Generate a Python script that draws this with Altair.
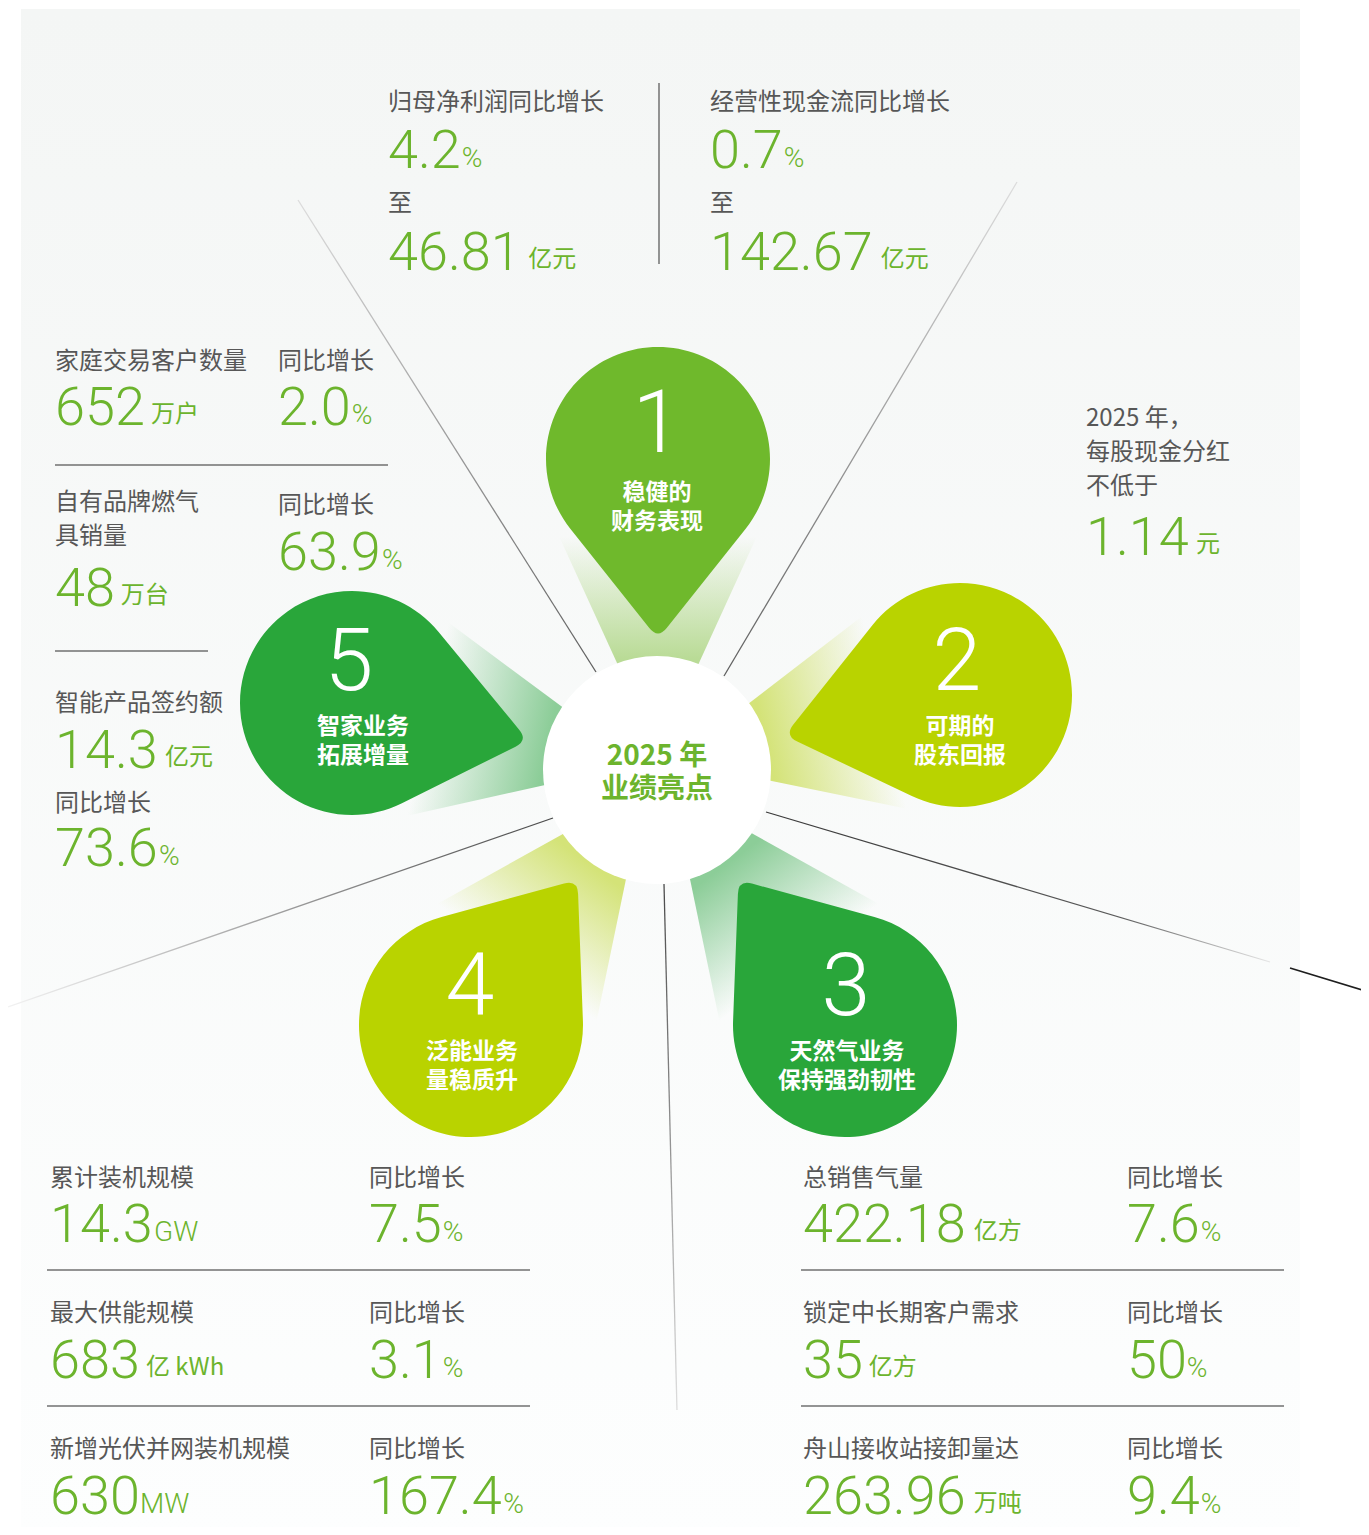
import math
import altair as alt
import pandas as pd

# ---------------- data ----------------
fin_labels = ["归母净利润同比增长", "经营性现金流同比增长"]
fin_growth = ["4.2", "0.7"]
fin_amount = ["46.81", "142.67"]
fin_unit = "亿元"
fin_to = "至"

dividend_text = ["2025 年，", "每股现金分红", "不低于"]
dividend_value = "1.14"
dividend_unit = "元"

home_labels = ["家庭交易客户数量", "自有品牌燃气具销量", "智能产品签约额"]
home_values = ["652", "48", "14.3"]
home_units = ["万户", "万台", "亿元"]
home_growth = ["2.0", "63.9", "73.6"]

energy_labels = ["累计装机规模", "最大供能规模", "新增光伏并网装机规模"]
energy_values = ["14.3", "683", "630"]
energy_units = ["GW", "亿 kWh", "MW"]
energy_growth = ["7.5", "3.1", "167.4"]

gas_labels = ["总销售气量", "锁定中长期客户需求", "舟山接收站接卸量达"]
gas_values = ["422.18", "35", "263.96"]
gas_units = ["亿方", "亿方", "万吨"]
gas_growth = ["7.6", "50", "9.4"]

growth_label = "同比增长"
pct = "%"

petal_numbers = ["1", "2", "3", "4", "5"]
petal_titles = [["稳健的", "财务表现"], ["可期的", "股东回报"], ["天然气业务", "保持强劲韧性"],
                ["泛能业务", "量稳质升"], ["智家业务", "拓展增量"]]
center_title = ["2025 年", "业绩亮点"]

# ---------------- layout / style ----------------
W, H = 1353, 1519
OX, OY = 8, 8
GREEN = "#6cb42d"
GRAY = "#575757"
RULE = "#707070"
NUM = 54

petal_pos = [(658, 459), (960, 695), (845, 1025), (471, 1025), (352, 703)]
petal_rot = [0, 77, 143.7, 216.3, 282]
petal_fill = ["#6fb92c", "#b9d300", "#29a63a", "#b9d300", "#29a63a"]
wedge_rgb = [(185, 219, 150), (212, 227, 120), (140, 205, 152), (212, 227, 120), (140, 205, 152)]
petal_num_pos = [(657, 452), (957, 690), (846, 1015), (470, 1015), (349, 690)]
petal_title_pos = [(657, 500), (960, 734), (847, 1059), (472, 1059), (363, 734)]

# petal (teardrop) shape in pixel units, tip pointing down (+y)
R, D, CUT = 112, 180, 14
s = math.sqrt(1 - (R / D) ** 2)
Tx, Ty = R * s, R * R / D
L = math.hypot(Tx, D - Ty)
px, py = Tx / L * CUT, D - (D - Ty) / L * CUT
PETAL = (f"M {Tx:.2f} {Ty:.2f} L {px:.2f} {py:.2f} Q 0 {D} {-px:.2f} {py:.2f} "
         f"L {-Tx:.2f} {Ty:.2f} A {R} {R} 0 1 1 {Tx:.2f} {Ty:.2f} Z")
WEDGE = "M -116 40 L 116 40 L 30 228 L -30 228 Z"

xs = alt.Scale(domain=[OX, OX + W], nice=False, zero=False)
ys = alt.Scale(domain=[OY, OY + H], nice=False, zero=False, reverse=True)


def X(f="x"):
    return alt.X(f + ":Q", scale=xs, axis=None)


def Y(f="y"):
    return alt.Y(f + ":Q", scale=ys, axis=None)


def grad(stops, x1, y1, x2, y2):
    return {"gradient": "linear", "x1": x1, "y1": y1, "x2": x2, "y2": y2,
            "stops": [{"offset": o, "color": c} for o, c in stops]}


layers = []

# background panel
panel = pd.DataFrame([{"x": 21, "x2": 1300, "y": 9, "y2": 1540}])
layers.append(alt.Chart(panel).mark_rect(
    fill=grad([(0, "#f4f6f5"), (1, "#fdfefe")], 0, 0, 0, 1)
).encode(x=X(), x2="x2:Q", y=Y(), y2="y2:Q"))

# glow wedges behind petals
for i in range(5):
    r, g, b = wedge_rgb[i]
    d = pd.DataFrame([{"x": petal_pos[i][0], "y": petal_pos[i][1], "rot": petal_rot[i]}])
    layers.append(alt.Chart(d).mark_point(
        shape=WEDGE, size=4, filled=True, opacity=1, strokeWidth=0,
        fill=grad([(0, f"rgba({r},{g},{b},0)"), (0.2, f"rgba({r},{g},{b},0)"),
                   (0.85, f"rgb({r},{g},{b})"), (1, f"rgb({r},{g},{b})")], 0, 0, 0, 1)
    ).encode(x=X(), y=Y(), angle=alt.Angle("rot:Q", scale=None)))

# radial lines with fading strokes
radials = [
    ((298, 200, 596, 672), [(0, "#dcdcdc"), (1, "#5e5e5e")], (0, 0, 1, 1)),
    ((1017, 182, 724, 676), [(0, "#dcdcdc"), (1, "#5e5e5e")], (1, 0, 0, 1)),
    ((766, 812, 1270, 962), [(0, "#3a3a3a"), (0.7, "#5a5a5a"), (1, "#e6e6e6")], (0, 0, 1, 1)),
    ((553, 818, 8, 1007), [(0, "#4a4a4a"), (1, "#f2f2f2")], (1, 0, 0, 1)),
    ((664, 884, 677, 1410), [(0, "#4a4a4a"), (1, "#dedede")], (0, 0, 1, 1)),
]
for (x1, y1, x2, y2), stops, g in radials:
    d = pd.DataFrame([{"x": x1, "y": y1, "x2": x2, "y2": y2}])
    layers.append(alt.Chart(d).mark_rule(
        strokeWidth=1.3, stroke=grad(stops, *g)
    ).encode(x=X(), y=Y(), x2="x2:Q", y2="y2:Q"))

# solid rules (dividers)
rules = pd.DataFrame([
    {"x": 659, "y": 83, "x2": 659, "y2": 264, "c": "#7a7a7a"},
    {"x": 55, "y": 465, "x2": 388, "y2": 465, "c": RULE},
    {"x": 55, "y": 651, "x2": 208, "y2": 651, "c": RULE},
    {"x": 47, "y": 1270, "x2": 530, "y2": 1270, "c": RULE},
    {"x": 47, "y": 1406, "x2": 530, "y2": 1406, "c": RULE},
    {"x": 801, "y": 1270, "x2": 1284, "y2": 1270, "c": RULE},
    {"x": 801, "y": 1406, "x2": 1284, "y2": 1406, "c": RULE},
    {"x": 1290, "y": 968, "x2": 1362, "y2": 990, "c": "#1e1e1e"},
])
layers.append(alt.Chart(rules).mark_rule(strokeWidth=1.6).encode(
    x=X(), y=Y(), x2="x2:Q", y2="y2:Q", color=alt.Color("c:N", scale=None)))

# center circle
cdf = pd.DataFrame([{"x": 657, "y": 770}])
layers.append(alt.Chart(cdf).mark_point(
    shape="circle", size=228 * 228, filled=True, opacity=1, strokeWidth=0, fill="white"
).encode(x=X(), y=Y()))

# petals
pdf = pd.DataFrame([{"x": petal_pos[i][0], "y": petal_pos[i][1], "rot": petal_rot[i],
                     "c": petal_fill[i]} for i in range(5)])
layers.append(alt.Chart(pdf).mark_point(
    shape=PETAL, size=4, filled=True, opacity=1, strokeWidth=0
).encode(x=X(), y=Y(), angle=alt.Angle("rot:Q", scale=None), color=alt.Color("c:N", scale=None)))

# ---------------- texts ----------------
texts = []


def T(x, y, t, size, color, group):
    texts.append({"x": x, "y": y, "t": t, "size": size, "color": color, "group": group})


WID = {c: 0.5615 for c in "0123456789"}
WID["."] = 0.26


def est(t, size):
    return sum(WID.get(c, 0.56) for c in t) * size


def metric(x, y, value, unit):
    T(x, y, value, NUM, GREEN, "num")
    w = est(value, NUM)
    if unit == pct:
        T(x + w - 1, y - 1, unit, 28, GREEN, "num")
    elif unit in ("GW", "MW"):
        T(x + w - 1, y - 1, unit, 28, GREEN, "num")
    else:
        T(x + w + 5, y - 3, unit, 24, GREEN, "cjk")


# top financial block
for i, x in enumerate([388, 710]):
    T(x, 110, fin_labels[i], 24, GRAY, "cjk")
    metric(x, 168, fin_growth[i], pct)
    T(x, 211, fin_to, 24, GRAY, "cjk")
    metric(x, 270, fin_amount[i], fin_unit)

# dividend block
for t, y in zip(dividend_text, [426, 460, 494]):
    T(1086, y, t, 24, GRAY, "cjk")
metric(1086, 555, dividend_value, dividend_unit)

# smart home block
T(55, 369, home_labels[0], 24, GRAY, "cjk")
T(278, 369, growth_label, 24, GRAY, "cjk")
metric(55, 425, home_values[0], home_units[0])
metric(278, 425, home_growth[0], pct)
T(55, 510, home_labels[1][:6], 24, GRAY, "cjk")
T(55, 544, home_labels[1][6:], 24, GRAY, "cjk")
T(278, 513, growth_label, 24, GRAY, "cjk")
metric(278, 570, home_growth[1], pct)
metric(55, 606, home_values[1], home_units[1])
T(55, 711, home_labels[2], 24, GRAY, "cjk")
metric(55, 768, home_values[2], home_units[2])
T(55, 811, growth_label, 24, GRAY, "cjk")
metric(55, 866, home_growth[2], pct)

# bottom tables
row_label_y = [1186, 1321, 1457]
row_num_y = [1242, 1378, 1514]
for (xa, xb, labels, values, units, growth) in [
        (50, 369, energy_labels, energy_values, energy_units, energy_growth),
        (803, 1127, gas_labels, gas_values, gas_units, gas_growth)]:
    for k in range(3):
        T(xa, row_label_y[k], labels[k], 24, GRAY, "cjk")
        T(xb, row_label_y[k], growth_label, 24, GRAY, "cjk")
        metric(xa, row_num_y[k], values[k], units[k])
        metric(xb, row_num_y[k], growth[k], pct)

# petal texts
for i in range(5):
    T(petal_num_pos[i][0], petal_num_pos[i][1], petal_numbers[i], 88, "white", "pnum")
    x, y1 = petal_title_pos[i]
    T(x, y1, "\n".join(petal_titles[i]), 23, "white", "bold")

T(657, 765, "\n".join(center_title), 28, GREEN, "center")

tdf = pd.DataFrame(texts)
styles = {
    "cjk": dict(font="Noto Sans CJK SC", fontWeight="normal", align="left"),
    "num": dict(font="Roboto", fontWeight=300, align="left"),
    "pnum": dict(font="Roboto", fontWeight=300, align="center"),
    "bold": dict(font="Noto Sans CJK SC", fontWeight="bold", align="center",
                 lineBreak="\n", lineHeight=29),
    "center": dict(font="Noto Sans CJK SC", fontWeight="bold", align="center",
                   lineBreak="\n", lineHeight=33),
}
for g, st in styles.items():
    sub = tdf[tdf.group == g]
    layers.append(alt.Chart(sub).mark_text(baseline="alphabetic", **st).encode(
        x=X(), y=Y(), text="t:N",
        size=alt.Size("size:Q", scale=None),
        color=alt.Color("color:N", scale=None)))

chart = alt.layer(*layers).properties(
    width=W, height=H, padding=0, autosize=alt.AutoSizeParams(type="none")
).configure_view(stroke=None)

chart.save("out.html", embed_options={"renderer": "svg", "actions": False})
